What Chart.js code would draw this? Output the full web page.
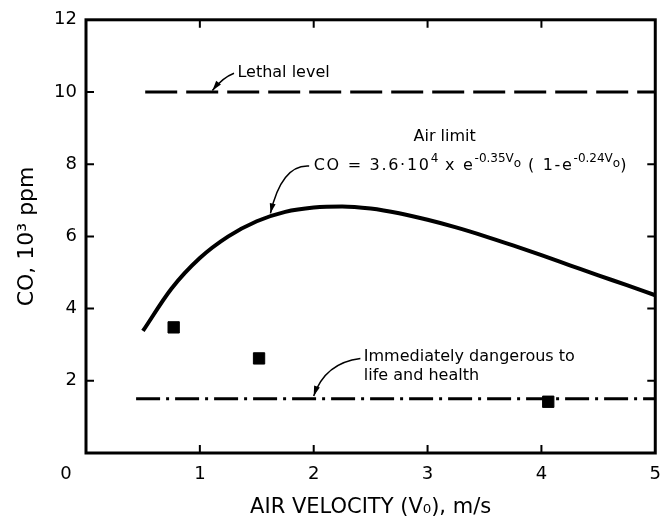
<!DOCTYPE html>
<html lang="en">
<head>
<meta charset="UTF-8"/>
<title>CO vs air velocity</title>
<script src="https://cdn.jsdelivr.net/npm/chart.js"></script>
<style>
  * { margin: 0; padding: 0; }
  body { background: #fff; }
  #wrap { width: 672px; height: 523px; }
</style>
</head>
<body>
<div id="wrap"><canvas id="chart" width="672" height="523"></canvas></div>
<script>
// values (CO in 10^3 ppm, velocity in m/s)
const velocity = [0.5, 0.75, 1.0, 1.25, 1.5, 1.75, 2.0, 2.25, 2.5, 2.75, 3.0, 3.25, 3.5, 3.75, 4.0, 4.25, 4.5, 4.75, 5.0];
const airLimit = [3.38, 4.55, 5.4, 6.0, 6.42, 6.68, 6.8, 6.83, 6.77, 6.64, 6.46, 6.25, 6.01, 5.75, 5.48, 5.2, 4.92, 4.65, 4.37];
const sampleVelocity = [0.77, 1.52, 4.06];
const sampleCO = [3.48, 2.62, 1.42];
const lethalX = [0.52, 5];
const lethalLevel = 10;
const idlhX = [0.44, 5];
const idlhLevel = 1.5;
const xTicks = [0, 1, 2, 3, 4, 5];
const yTicks = [2, 4, 6, 8, 10, 12];

const FONT = "'DejaVu Sans', sans-serif";
const pts = (xs, ys) => xs.map((v, i) => ({ x: v, y: Array.isArray(ys) ? ys[i] : ys }));

// frame + inward ticks on all four sides
const frame = {
  id: 'frame',
  afterDatasetsDraw(chart) {
    const { ctx, chartArea: a, scales: { x, y } } = chart;
    ctx.save();
    ctx.strokeStyle = '#000';
    ctx.lineWidth = 3;
    ctx.strokeRect(a.left, a.top, a.width, a.height);
    ctx.lineWidth = 2;
    ctx.beginPath();
    xTicks.slice(1, -1).forEach(v => {
      const px = x.getPixelForValue(v);
      ctx.moveTo(px, a.bottom); ctx.lineTo(px, a.bottom - 8);
      ctx.moveTo(px, a.top); ctx.lineTo(px, a.top + 8);
    });
    yTicks.slice(0, -1).forEach(v => {
      const py = y.getPixelForValue(v);
      ctx.moveTo(a.left, py); ctx.lineTo(a.left + 8, py);
      ctx.moveTo(a.right, py); ctx.lineTo(a.right - 8, py);
    });
    ctx.stroke();
    // shared origin label sits in the corner
    ctx.fillStyle = '#000';
    ctx.font = '18px ' + FONT;
    ctx.textAlign = 'center';
    ctx.textBaseline = 'middle';
    ctx.fillText('0', a.left - 20, a.bottom + 21);
    ctx.restore();
  }
};

function leader(ctx, x0, y0, cx, cy, x1, y1) {
  ctx.beginPath();
  ctx.moveTo(x0, y0);
  ctx.quadraticCurveTo(cx, cy, x1, y1);
  ctx.lineWidth = 1.5;
  ctx.stroke();
  const ang = Math.atan2(y1 - cy, x1 - cx);
  const len = 10, w = 3;
  ctx.beginPath();
  ctx.moveTo(x1, y1);
  ctx.lineTo(x1 - len * Math.cos(ang) + w * Math.sin(ang), y1 - len * Math.sin(ang) - w * Math.cos(ang));
  ctx.lineTo(x1 - len * Math.cos(ang) - w * Math.sin(ang), y1 - len * Math.sin(ang) + w * Math.cos(ang));
  ctx.closePath();
  ctx.fill();
}

// text runs: n = normal, p = superscript, s = subscript inside superscript
function richText(ctx, runs, x, y) {
  runs.forEach(([t, k]) => {
    const size = k === 'n' ? 16 : 12;
    const dy = k === 'p' ? -7 : k === 's' ? -2 : 0;
    ctx.font = size + 'px ' + FONT;
    ctx.letterSpacing = k === 'n' ? '1.7px' : '0px';
    ctx.fillText(t, x, y + dy);
    x += ctx.measureText(t).width;
  });
  ctx.letterSpacing = '0px';
}

const notes = {
  id: 'notes',
  afterDraw(chart) {
    const { ctx, scales: { x, y } } = chart;
    const X = v => x.getPixelForValue(v), Y = v => y.getPixelForValue(v);
    ctx.save();
    ctx.fillStyle = '#000';
    ctx.strokeStyle = '#000';
    ctx.textBaseline = 'middle';
    ctx.font = '16px ' + FONT;

    ctx.fillText('Lethal level', X(1.33), Y(10.52));
    leader(ctx, X(1.3), Y(10.52), X(1.2), Y(10.4), X(1.11), Y(10.04));

    ctx.textAlign = 'center';
    ctx.fillText('Air limit', X(3.15), Y(8.75));
    ctx.textAlign = 'left';
    richText(ctx, [
      ['CO = 3.6\u00b710', 'n'], ['4', 'p'], [' x e', 'n'], ['-0.35V', 'p'], ['o', 's'],
      [' ( 1-e', 'n'], ['-0.24V', 'p'], ['o', 's'], [')', 'n']
    ], X(2.0), Y(7.95));
    leader(ctx, X(1.96), Y(7.95), X(1.72), Y(8.0), X(1.62), Y(6.64));

    ctx.font = '16px ' + FONT;
    ctx.fillText('Immediately dangerous to', X(2.44), Y(2.65));
    ctx.fillText('life and health', X(2.44), Y(2.13));
    leader(ctx, X(2.41), Y(2.62), X(2.1), Y(2.5), X(2.0), Y(1.58));
    ctx.restore();
  }
};

new Chart(document.getElementById('chart'), {
  type: 'scatter',
  data: {
    datasets: [{
      data: pts(sampleVelocity, sampleCO),
      pointStyle: 'rect',
      pointRadius: 8,
      backgroundColor: '#000',
      borderColor: '#000',
      showLine: false
    }, {
      data: pts(velocity, airLimit),
      showLine: true,
      borderColor: '#000',
      borderWidth: 4,
      pointRadius: 0,
      cubicInterpolationMode: 'monotone'
    }, {
      data: pts(lethalX, lethalLevel),
      showLine: true,
      borderColor: '#000',
      borderWidth: 3,
      borderDash: [32, 9],
      pointRadius: 0
    }, {
      data: pts(idlhX, idlhLevel),
      showLine: true,
      borderColor: '#000',
      borderWidth: 3,
      borderDash: [24, 6, 3, 6],
      pointRadius: 0
    }]
  },
  options: {
    responsive: false,
    animation: false,
    devicePixelRatio: 1,
    layout: { padding: { left: 0, right: 13, top: 14, bottom: 0 } },
    plugins: { legend: { display: false }, tooltip: { enabled: false } },
    scales: {
      x: {
        min: 0, max: 5,
        afterFit: s => { s.height = 70; },
        afterBuildTicks: s => { s.ticks = xTicks.map(v => ({ value: v })); },
        grid: { display: false, drawTicks: false },
        border: { display: false },
        ticks: {
          color: '#000', padding: 11, maxRotation: 0,
          font: { family: FONT, size: 18 },
          callback: v => (v === 0 ? '' : v)
        },
        title: {
          display: true, text: 'AIR VELOCITY (V\u2080), m/s', color: '#000',
          font: { family: FONT, size: 21 }, padding: { top: 0, bottom: 3 }
        }
      },
      y: {
        min: 0, max: 12,
        afterFit: s => { s.width = 86; },
        afterBuildTicks: s => { s.ticks = yTicks.map(v => ({ value: v })); },
        grid: { display: false, drawTicks: false },
        border: { display: false },
        ticks: { color: '#000', padding: 9, font: { family: FONT, size: 18 } },
        title: {
          display: true, text: 'CO, 10\u00b3 ppm', color: '#000',
          font: { family: FONT, size: 22 }, padding: { top: 14, bottom: 0 }
        }
      }
    }
  },
  plugins: [frame, notes]
});
</script>
</body>
</html>
